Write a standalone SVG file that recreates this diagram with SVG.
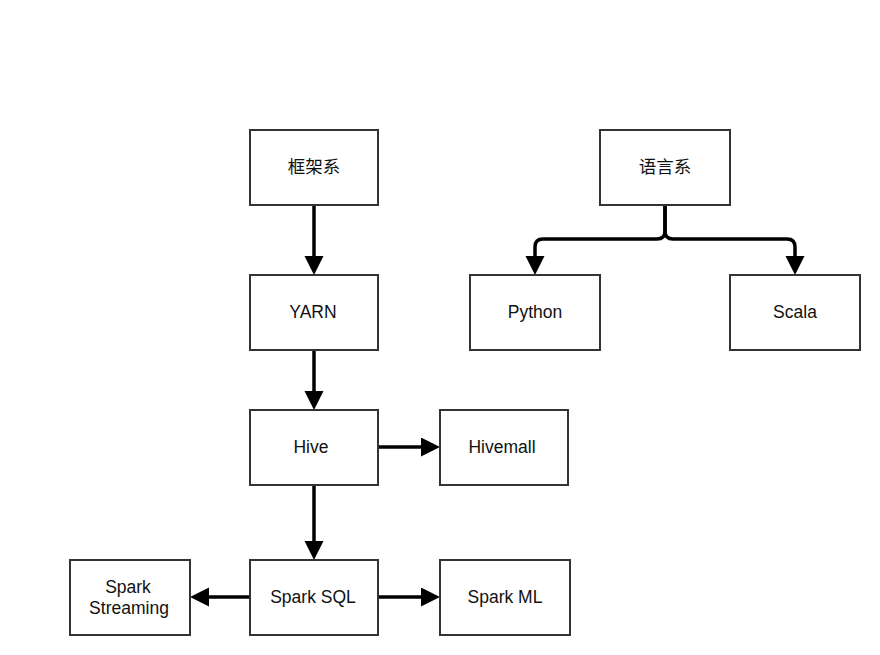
<svg xmlns="http://www.w3.org/2000/svg" width="880" height="655" viewBox="0 0 880 655">
<defs>
<style>
.box{fill:#fff;stroke:#333;stroke-width:2}
.lbl{font-family:"Liberation Sans","Noto Sans CJK SC",Arial,sans-serif;font-size:17.5px;fill:#111;text-anchor:middle}
.con{fill:none;stroke:#000;stroke-width:3.5}
</style>
<marker id="ah" markerUnits="userSpaceOnUse" markerWidth="20" markerHeight="20" refX="0" refY="9.5" orient="auto">
<path d="M0,0 L19,9.5 L0,19 z" fill="#000"/>
</marker>
</defs>
<rect width="880" height="655" fill="#fff"/>
<g id="connectors">
<path class="con" d="M314,205 V256" marker-end="url(#ah)"/>
<path class="con" d="M314,350 V391" marker-end="url(#ah)"/>
<path class="con" d="M378,447 H421" marker-end="url(#ah)"/>
<path class="con" d="M314,485 V541" marker-end="url(#ah)"/>
<path class="con" d="M250,597 H209" marker-end="url(#ah)"/>
<path class="con" d="M378,597 H421" marker-end="url(#ah)"/>
<path class="con" d="M665,205 V231 Q665,239 657,239 H543 Q535,239 535,247 V256" marker-end="url(#ah)"/>
<path class="con" d="M665,205 V231 Q665,239 673,239 H787 Q795,239 795,247 V256" marker-end="url(#ah)"/>
</g>
<g id="n1"><rect class="box" x="250" y="130" width="128" height="75"/><text class="lbl" x="314" y="173">框架系</text></g>
<g id="n2"><rect class="box" x="250" y="275" width="128" height="75"/><text class="lbl" x="313" y="318">YARN</text></g>
<g id="n3"><rect class="box" x="250" y="410" width="128" height="75"/><text class="lbl" x="311" y="453">Hive</text></g>
<g id="n4"><rect class="box" x="440" y="410" width="128" height="75"/><text class="lbl" x="502" y="453">Hivemall</text></g>
<g id="n5"><rect class="box" x="250" y="560" width="128" height="75"/><text class="lbl" x="313" y="603">Spark SQL</text></g>
<g id="n6"><rect class="box" x="70" y="560" width="120" height="75"/><text class="lbl" x="128" y="593">Spark</text><text class="lbl" x="129" y="614">Streaming</text></g>
<g id="n7"><rect class="box" x="440" y="560" width="130" height="75"/><text class="lbl" x="505" y="603">Spark ML</text></g>
<g id="n8"><rect class="box" x="600" y="130" width="130" height="75"/><text class="lbl" x="665" y="173">语言系</text></g>
<g id="n9"><rect class="box" x="470" y="275" width="130" height="75"/><text class="lbl" x="535" y="318">Python</text></g>
<g id="n10"><rect class="box" x="730" y="275" width="130" height="75"/><text class="lbl" x="795" y="318">Scala</text></g>
</svg>
